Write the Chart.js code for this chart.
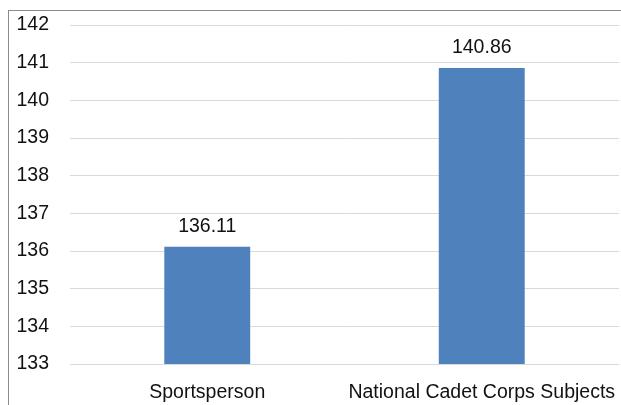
<!DOCTYPE html>
<html>
<head>
<meta charset="utf-8">
<script src="https://cdn.jsdelivr.net/npm/chart.js@4.4.1/dist/chart.umd.min.js"></script>
<style>
  html, body { margin: 0; padding: 0; background: #fff; overflow: hidden; }
  body { width: 621px; height: 405px; position: relative; }
  #frame {
    position: absolute; left: 8px; top: 10px; width: 640px; height: 420px;
    border: 1px solid #8c8c8c; box-sizing: border-box;
  }
  #wrap { position: absolute; left: 0; top: 0; width: 621px; height: 405px; }
</style>
</head>
<body>
<div id="frame"></div>
<div id="wrap"><canvas id="chart"></canvas></div>
<script>
// --- Data ---
const categories = ["Sportsperson", "National Cadet Corps Subjects"];
const values = [136.11, 140.86];
const yMin = 133;
const yMax = 142;

const FONT = "'Liberation Sans', Arial, sans-serif";
const TEXT = "#111";
const SIZE = 19.5;

// value labels above each bar
const valueLabels = {
  id: "valueLabels",
  afterDatasetsDraw(chart) {
    const ctx = chart.ctx;
    const meta = chart.getDatasetMeta(0);
    ctx.save();
    ctx.font = SIZE + "px " + FONT;
    ctx.fillStyle = TEXT;
    ctx.textAlign = "center";
    ctx.textBaseline = "middle";
    meta.data.forEach((bar, i) => {
      ctx.fillText(values[i].toFixed(2), bar.x, bar.y - 20);
    });
    ctx.restore();
  }
};

// keep the plot area fixed instead of shrinking for label overflow
function noPadding(scale) {
  scale.paddingLeft = 0;
  scale.paddingRight = 0;
  scale.paddingTop = 0;
  scale.paddingBottom = 0;
}

new Chart(document.getElementById("chart"), {
  type: "bar",
  data: {
    labels: categories,
    datasets: [{
      data: values,
      backgroundColor: "#4f81bd",
      borderWidth: 0,
      barPercentage: 0.313,
      categoryPercentage: 1
    }]
  },
  options: {
    responsive: true,
    maintainAspectRatio: false,
    animation: false,
    layout: { padding: { top: 25, right: 2, bottom: 0, left: 0 } },
    plugins: { legend: { display: false }, tooltip: { enabled: false } },
    scales: {
      x: {
        grid: { display: false, drawTicks: false },
        border: { display: false },
        ticks: { color: TEXT, font: { family: FONT, size: SIZE }, padding: 17, maxRotation: 0, autoSkip: false },
        afterFit(scale) { scale.height = 41; noPadding(scale); }
      },
      y: {
        min: yMin,
        max: yMax,
        grid: { color: "#d9d9d9", drawTicks: false },
        border: { display: false },
        ticks: { stepSize: 1, color: TEXT, font: { family: FONT, size: SIZE }, padding: 21 },
        afterFit(scale) { scale.width = 70; noPadding(scale); }
      }
    }
  },
  plugins: [valueLabels]
});
</script>
</body>
</html>
